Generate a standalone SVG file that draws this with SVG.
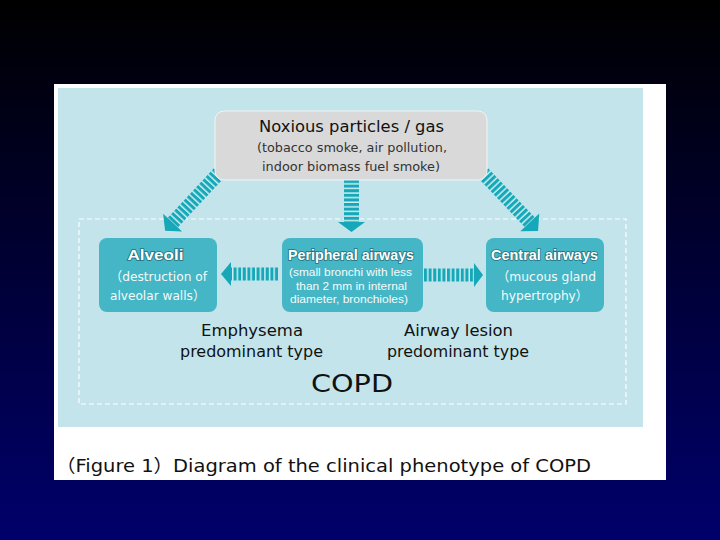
<svg xmlns="http://www.w3.org/2000/svg" width="720" height="540" viewBox="0 0 720 540">
<defs>
<linearGradient id="bg" x1="0" y1="0" x2="0" y2="1">
<stop offset="0" stop-color="#000000"/>
<stop offset="1" stop-color="#00006c"/>
</linearGradient>
<pattern id="stripe" patternUnits="userSpaceOnUse" width="4.6" height="40" x="0" y="0">
<rect x="0" y="0" width="4.6" height="40" fill="#cdeff3"/>
<rect x="0" y="0" width="3.1" height="40" fill="#16a7b8"/>
</pattern>
<style>
.t{font-family:"DejaVu Sans","Liberation Sans","Noto Sans CJK JP",sans-serif;text-anchor:middle;}
.main{font-size:16px;fill:#111;}
.sub{font-size:13px;fill:#333;}
.box{fill:#45b6c5;}
.ttl{font-family:"Liberation Sans","Noto Sans CJK JP",sans-serif;font-weight:bold;font-size:15px;fill:#fff;stroke:#23707c;stroke-width:1.6px;paint-order:stroke;text-anchor:middle;}
.bt{font-size:13px;fill:#f4fbfc;}
.sm{font-family:"Liberation Sans","Noto Sans CJK JP",sans-serif;font-size:11.5px;fill:#f4fbfc;text-anchor:middle;}
.lbl{font-size:16px;fill:#111;}
.head{fill:#16a7b8;}
</style>
</defs>
<rect x="0" y="0" width="720" height="540" fill="url(#bg)"/>
<rect x="54" y="84" width="612" height="396" fill="#ffffff"/>
<rect x="58" y="88" width="585" height="339" fill="#c2e4ea"/>
<rect x="79" y="219" width="547" height="185" fill="none" stroke="#ffffff" stroke-width="1.2" stroke-dasharray="5,3"/>

<g id="connectors">
<g transform="translate(351.5,180) rotate(90)">
<rect x="0" y="-7.5" width="43" height="15" fill="url(#stripe)"/>
<polygon class="head" points="42,-13.5 52,0 42,13.5"/>
</g>
<g transform="translate(219,173) rotate(133)">
<rect x="0" y="-7" width="69" height="14" fill="url(#stripe)"/>
<polygon class="head" points="68,-13 79,0 68,13"/>
</g>
<g transform="translate(483,173) rotate(46.5)">
<rect x="0" y="-7" width="69" height="14" fill="url(#stripe)"/>
<polygon class="head" points="68,-13 80,0 68,13"/>
</g>
<g transform="translate(424,275)">
<rect x="0" y="-6.5" width="51" height="13" fill="url(#stripe)"/>
<polygon class="head" points="50,-12 59,0 50,12"/>
</g>
<g transform="translate(278,274) rotate(180)">
<rect x="0" y="-6.5" width="48" height="13" fill="url(#stripe)"/>
<polygon class="head" points="47,-12 57,0 47,12"/>
</g>
</g>

<g id="noxious">
<rect x="215" y="111" width="272" height="69" rx="9" fill="#d9d9d9" stroke="#f4f4f4" stroke-width="1"/>
<text class="t main" x="351.5" y="132" textLength="185" lengthAdjust="spacingAndGlyphs">Noxious particles / gas</text>
<text class="t sub" x="352" y="152" textLength="190" lengthAdjust="spacingAndGlyphs">(tobacco smoke, air pollution,</text>
<text class="t sub" x="351" y="171" textLength="178" lengthAdjust="spacingAndGlyphs">indoor biomass fuel smoke)</text>
</g>

<g id="alveoli">
<rect class="box" x="99" y="238" width="118" height="74" rx="8"/>
<text class="ttl" x="155.5" y="260" textLength="56" lengthAdjust="spacingAndGlyphs">Alveoli</text>
<text class="t bt" x="158.5" y="281" textLength="97" lengthAdjust="spacingAndGlyphs">（destruction of</text>
<text class="t bt" x="157.5" y="300" textLength="95" lengthAdjust="spacingAndGlyphs">alveolar walls）</text>
</g>

<g id="peripheral">
<rect class="box" x="282" y="238" width="141" height="74" rx="8"/>
<text class="ttl" x="351" y="260" textLength="126" lengthAdjust="spacingAndGlyphs">Peripheral airways</text>
<text class="sm" x="350.5" y="276" textLength="123" lengthAdjust="spacingAndGlyphs">(small bronchi with less</text>
<text class="sm" x="351.5" y="289.5" textLength="111" lengthAdjust="spacingAndGlyphs">than 2 mm in internal</text>
<text class="sm" x="349" y="303" textLength="118" lengthAdjust="spacingAndGlyphs">diameter, bronchioles)</text>
</g>

<g id="central">
<rect class="box" x="486" y="238" width="118" height="74" rx="8"/>
<text class="ttl" x="544.5" y="260" textLength="107" lengthAdjust="spacingAndGlyphs">Central airways</text>
<text class="t bt" x="546.5" y="281" textLength="99" lengthAdjust="spacingAndGlyphs">（mucous gland</text>
<text class="t bt" x="544.5" y="300" textLength="87" lengthAdjust="spacingAndGlyphs">hypertrophy）</text>
</g>

<g id="labels">
<text class="t lbl" x="252" y="336" textLength="102" lengthAdjust="spacingAndGlyphs">Emphysema</text>
<text class="t lbl" x="251.5" y="357" textLength="143" lengthAdjust="spacingAndGlyphs">predominant type</text>
<text class="t lbl" x="458.5" y="336" textLength="109" lengthAdjust="spacingAndGlyphs">Airway lesion</text>
<text class="t lbl" x="458" y="357" textLength="142" lengthAdjust="spacingAndGlyphs">predominant type</text>
<text class="t" x="352" y="392" font-size="25" fill="#111" textLength="82" lengthAdjust="spacingAndGlyphs">COPD</text>
</g>

<text x="56" y="472" font-family="DejaVu Sans,'Liberation Sans','Noto Sans CJK JP',sans-serif" font-size="18" fill="#111" textLength="535" lengthAdjust="spacingAndGlyphs">（Figure 1）Diagram of the clinical phenotype of COPD</text>
</svg>
